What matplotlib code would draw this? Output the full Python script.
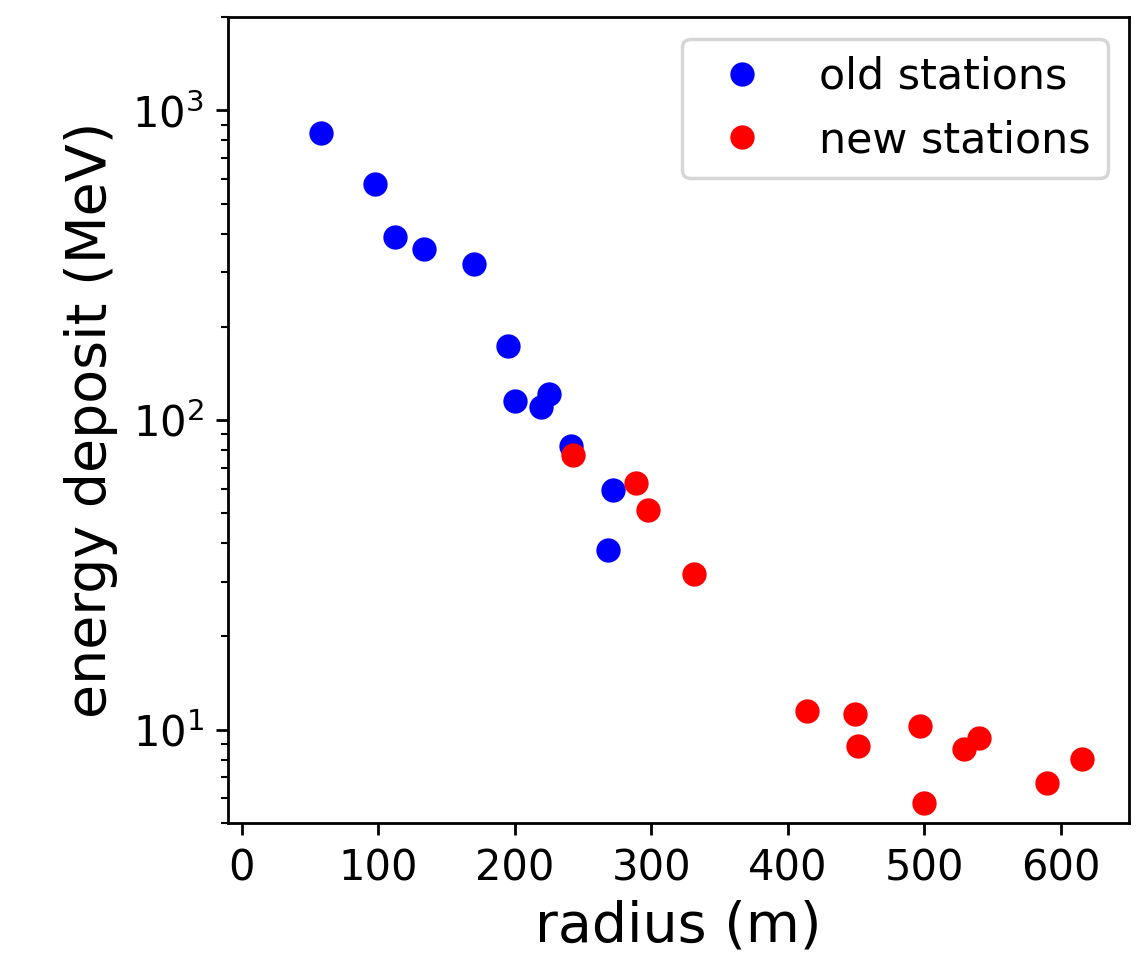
import matplotlib
matplotlib.use("Agg")
import matplotlib.pyplot as plt

# station data: radius (m) and energy deposit (MeV)
old_radius = [57.6, 97.2, 112.4, 133.7, 169.9, 194.8, 200.2, 225.2, 219.5,
              240.8, 271.8, 267.9]
old_edep = [847, 577, 390, 358, 319, 173, 115, 121, 110, 82.2, 59.2, 38.1]

new_radius = [242.5, 289.0, 297.3, 331.2, 413.9, 449.3, 451.3, 496.7, 499.9,
              529.0, 539.8, 590.1, 615.8]
new_edep = [77.3, 62.7, 51.3, 31.7, 11.5, 11.2, 8.84, 10.3, 5.79, 8.63, 9.39,
            6.70, 8.05]

fig = plt.figure(figsize=(1139 / 250, 954 / 250), dpi=250)
ax = fig.add_axes([0.2004, 0.1376, 0.7908, 0.8443])

ax.plot(old_radius, old_edep, 'bo', linestyle='none', label='old stations')
ax.plot(new_radius, new_edep, 'ro', linestyle='none', label='new stations')

ax.set_yscale('log')
ax.set_xlim(-10, 650)
ax.set_ylim(5, 2000)
ax.set_xticks(range(0, 700, 100))

ax.set_xlabel('radius (m)', fontsize=16, labelpad=3)
ax.set_ylabel('energy deposit (MeV)', fontsize=16)
ax.tick_params(labelsize=12)
ax.legend(loc='upper right', fontsize=12.3)

fig.savefig('out.png', dpi=250)
